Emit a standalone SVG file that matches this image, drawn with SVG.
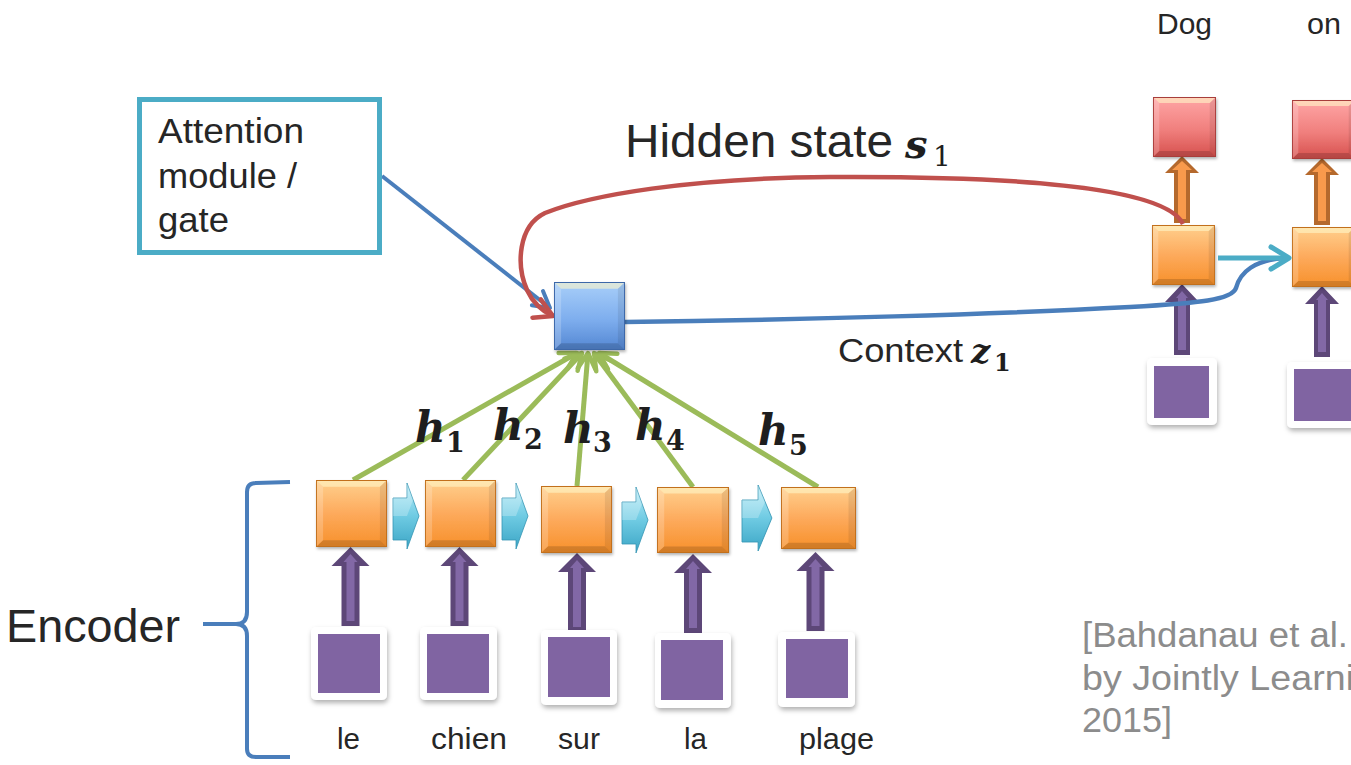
<svg xmlns="http://www.w3.org/2000/svg" xmlns:xlink="http://www.w3.org/1999/xlink" width="1351" height="765" viewBox="0 0 1351 765">
  <style>
    .t { font-family: "Liberation Sans", Arial, sans-serif; fill: #262626; }
    .cite { font-family: "Liberation Sans", Arial, sans-serif; fill: #8c8c8c; font-size: 35px; }
    .m { font-family: "DejaVu Serif", serif; font-weight: bold; font-style: italic; fill: #1e1e1e; }
    .sub { font-family: "DejaVu Serif", serif; font-weight: bold; fill: #1e1e1e; }
    .subr { font-family: "DejaVu Serif", serif; fill: #1e1e1e; }
    .card { fill: #ffffff; filter: url(#shadow); }
    .word { fill: #8064a2; }
    .green { stroke: #9bbb59; stroke-width: 5; fill: none; marker-end: url(#head-green); }
  </style>
  <defs>
    <filter id="shadow" x="-20%" y="-20%" width="150%" height="150%">
      <feDropShadow dx="1" dy="3" stdDeviation="2.5" flood-color="#000" flood-opacity="0.3"/>
    </filter>
    <filter id="soft" x="-20%" y="-20%" width="150%" height="150%">
      <feDropShadow dx="1" dy="2" stdDeviation="1.5" flood-color="#000" flood-opacity="0.3"/>
    </filter>
    <linearGradient id="g-orange" x1="0" y1="0" x2="0" y2="1">
      <stop offset="0" stop-color="#ffd08e"/>
      <stop offset="0.5" stop-color="#fdaa5c"/>
      <stop offset="1" stop-color="#f7902a"/>
    </linearGradient>
    <linearGradient id="g-red" x1="0" y1="0" x2="0" y2="1">
      <stop offset="0" stop-color="#ffa6a6"/>
      <stop offset="0.55" stop-color="#f07f7d"/>
      <stop offset="1" stop-color="#d6504d"/>
    </linearGradient>
    <linearGradient id="g-blue" x1="0" y1="0" x2="0" y2="1">
      <stop offset="0" stop-color="#a9cff9"/>
      <stop offset="0.55" stop-color="#7eaeee"/>
      <stop offset="1" stop-color="#5386d2"/>
    </linearGradient>
    <linearGradient id="g-cyan" x1="0" y1="0" x2="0" y2="1">
      <stop offset="0" stop-color="#b8ecf8"/>
      <stop offset="0.5" stop-color="#6fcbe3"/>
      <stop offset="1" stop-color="#3ba5c5"/>
    </linearGradient>

    <!-- bevelled square, stretched to each box -->
    <symbol id="bevel" viewBox="0 0 100 100" preserveAspectRatio="none">
      <polygon points="0,0 100,0 90,10 10,10" fill="#fff6c8" opacity="0.6"/>
      <polygon points="0,0 10,10 10,90 0,100" fill="#ffffff" opacity="0.2"/>
      <polygon points="100,0 100,100 90,90 90,10" fill="#000000" opacity="0.08"/>
      <polygon points="0,100 100,100 90,90 10,90" fill="#000000" opacity="0.15"/>
    </symbol>
    <symbol id="box-orange" viewBox="0 0 100 100" preserveAspectRatio="none">
      <rect width="100" height="100" fill="url(#g-orange)"/>
      <use href="#bevel" width="100" height="100"/>
      <rect x="0.5" y="0.5" width="99" height="99" fill="none" stroke="#c2701f" stroke-width="1.2" vector-effect="non-scaling-stroke"/>
    </symbol>
    <symbol id="box-red" viewBox="0 0 100 100" preserveAspectRatio="none">
      <rect width="100" height="100" fill="url(#g-red)"/>
      <use href="#bevel" width="100" height="100"/>
      <rect x="0.5" y="0.5" width="99" height="99" fill="none" stroke="#a83c3a" stroke-width="1.2" vector-effect="non-scaling-stroke"/>
    </symbol>
    <symbol id="box-blue" viewBox="0 0 100 100" preserveAspectRatio="none">
      <rect width="100" height="100" fill="url(#g-blue)"/>
      <use href="#bevel" width="100" height="100"/>
      <rect x="0.5" y="0.5" width="99" height="99" fill="none" stroke="#3c67a8" stroke-width="1.2" vector-effect="non-scaling-stroke"/>
    </symbol>

    <!-- block arrows, tip at origin -->
    <g id="up-purple-79">
      <polygon points="0,0 19,19 9,19 9,79 -9,79 -9,19 -19,19" fill="#5d4778"/>
      <polygon points="0,7 7,15 4,15 4,74 -4,74 -4,15 -7,15" fill="#8268a6"/>
    </g>
    <g id="up-purple-71">
      <polygon points="0,0 17,18 8,18 8,71 -8,71 -8,18 -17,18" fill="#5d4778"/>
      <polygon points="0,7 6,14 4,14 4,66 -4,66 -4,14 -6,14" fill="#8268a6"/>
    </g>
    <g id="up-orange-67">
      <polygon points="0,0 17,17 8,17 8,67 -8,67 -8,17 -17,17" fill="#b5692d"/>
      <polygon points="0,5 10,14 4,14 4,63 -4,63 -4,14 -10,14" fill="#f99a4c"/>
    </g>
    <g id="right-cyan">
      <polygon points="0,15 14,15 14,0 26,33 14,66 14,57 0,57" fill="url(#g-cyan)" stroke="#3596b4" stroke-width="0.8"/>
      <polygon points="0,15 14,15 14,0 20,17 14,33 0,33" fill="#ffffff" opacity="0.25"/>
    </g>

    <!-- open chevron heads -->
    <marker id="head-blue" markerUnits="userSpaceOnUse" viewBox="0 0 24 24" markerWidth="24" markerHeight="24" refX="20" refY="12" orient="auto">
      <path d="M4,3 L20,12 L4,21" fill="none" stroke="#4a7ebb" stroke-width="4" stroke-linecap="round" stroke-linejoin="round"/>
    </marker>
    <marker id="head-red" markerUnits="userSpaceOnUse" viewBox="0 0 26 26" markerWidth="26" markerHeight="26" refX="22" refY="13" orient="auto">
      <path d="M4,3 L22,13 L4,23" fill="none" stroke="#c0504d" stroke-width="4.5" stroke-linecap="round" stroke-linejoin="round"/>
    </marker>
    <marker id="head-green" markerUnits="userSpaceOnUse" viewBox="0 0 24 24" markerWidth="24" markerHeight="24" refX="20" refY="12" orient="auto">
      <path d="M4,3 L20,12 L4,21" fill="none" stroke="#9bbb59" stroke-width="4.5" stroke-linecap="round" stroke-linejoin="round"/>
    </marker>
    <marker id="head-cyan" markerUnits="userSpaceOnUse" viewBox="0 0 26 28" markerWidth="26" markerHeight="28" refX="22" refY="14" orient="auto">
      <path d="M4,3 L22,14 L4,25" fill="none" stroke="#4bacc6" stroke-width="5" stroke-linecap="round" stroke-linejoin="round"/>
    </marker>
  </defs>

  <rect width="1351" height="765" fill="#ffffff"/>

  <!-- connectors -->
  <g id="connectors">
    <!-- recurrent links between encoder steps -->
    <use href="#right-cyan" transform="translate(393,483)"/>
    <use href="#right-cyan" transform="translate(502,483)"/>
    <use href="#right-cyan" transform="translate(622,487)"/>
    <use href="#right-cyan" transform="translate(742,485) scale(1.15,1)"/>

    <!-- word inputs to encoder states -->
    <use href="#up-purple-79" transform="translate(350.5,547)"/>
    <use href="#up-purple-79" transform="translate(459.5,547)"/>
    <use href="#up-purple-79" transform="translate(577,553)"/>
    <use href="#up-purple-79" transform="translate(693,554)"/>
    <use href="#up-purple-79" transform="translate(815.5,552)"/>

    <!-- decoder inputs and outputs -->
    <use href="#up-purple-71" transform="translate(1182,284)"/>
    <use href="#up-purple-71" transform="translate(1322,286)"/>
    <use href="#up-orange-67" transform="translate(1182,156)"/>
    <use href="#up-orange-67" transform="translate(1322,158)"/>

    <!-- annotations h1..h5 into the attention gate -->
    <path class="green" d="M353,480 L577,353"/>
    <path class="green" d="M463,480 L582,353"/>
    <path class="green" d="M577,486 L588,353"/>
    <path class="green" d="M693,487 L594,353"/>
    <path class="green" d="M818,487 L599,353"/>

    <!-- label pointer -->
    <path d="M382,176 L550,308" fill="none" stroke="#4a7ebb" stroke-width="4" marker-end="url(#head-blue)"/>

    <!-- hidden state fed back -->
    <path d="M1183,224 C1165,185 1000,176 830,177 C690,178 590,195 545,213 C518,226 516,265 527,290 C533,303 542,311 553,316" fill="none" stroke="#c0504d" stroke-width="4.5" marker-end="url(#head-red)"/>

    <!-- context vector to next decoder step -->
    <path d="M625,322 C800,320 1000,314 1130,307 C1200,303 1232,300 1236,288 C1240,272 1255,260 1284,258" fill="none" stroke="#4a7ebb" stroke-width="4.5"/>
    <path d="M1218,258 L1289,258" fill="none" stroke="#4bacc6" stroke-width="5" marker-end="url(#head-cyan)"/>

    <!-- encoder brace -->
    <path d="M290,482 L256,483 Q247,483 247,492 L247,612 Q247,624 236,624 L203,624 M236,624 Q247,624 247,636 L247,749 Q247,757 256,757 L290,757" fill="none" stroke="#4a7ebb" stroke-width="4" stroke-linejoin="round"/>
  </g>

  <!-- attention label box -->
  <g id="attention-label">
    <rect x="139.5" y="99.5" width="240" height="153" fill="#ffffff" stroke="#4bacc6" stroke-width="5"/>
    <text class="t" font-size="35" x="158" y="143" textLength="146" lengthAdjust="spacingAndGlyphs">Attention</text>
    <text class="t" font-size="35" x="158" y="188" textLength="139" lengthAdjust="spacingAndGlyphs">module /</text>
    <text class="t" font-size="35" x="158" y="232" textLength="71" lengthAdjust="spacingAndGlyphs">gate</text>
  </g>

  <!-- attention gate -->
  <g id="gate">
    <use href="#box-blue" x="554" y="282" width="71" height="68" filter="url(#soft)"/>
  </g>

  <!-- encoder states -->
  <g id="enc-1"><use href="#box-orange" x="316" y="480" width="71" height="67" filter="url(#soft)"/></g>
  <g id="enc-2"><use href="#box-orange" x="425" y="480" width="71" height="67" filter="url(#soft)"/></g>
  <g id="enc-3"><use href="#box-orange" x="541" y="486" width="71" height="67" filter="url(#soft)"/></g>
  <g id="enc-4"><use href="#box-orange" x="657" y="487" width="72" height="66" filter="url(#soft)"/></g>
  <g id="enc-5"><use href="#box-orange" x="781" y="487" width="75" height="62" filter="url(#soft)"/></g>

  <!-- source words -->
  <g id="in-le"><rect class="card" x="311" y="627" width="76" height="73" rx="5"/><rect class="word" x="318" y="634" width="62" height="59"/><text class="t" font-size="30" x="337" y="749" textLength="23" lengthAdjust="spacingAndGlyphs">le</text></g>
  <g id="in-chien"><rect class="card" x="420" y="627" width="77" height="73" rx="5"/><rect class="word" x="427" y="634" width="62" height="59"/><text class="t" font-size="30" x="431" y="749" textLength="76" lengthAdjust="spacingAndGlyphs">chien</text></g>
  <g id="in-sur"><rect class="card" x="541" y="630" width="76" height="75" rx="5"/><rect class="word" x="548" y="637" width="62" height="60"/><text class="t" font-size="30" x="558" y="749" textLength="42" lengthAdjust="spacingAndGlyphs">sur</text></g>
  <g id="in-la"><rect class="card" x="655" y="633" width="76" height="75" rx="5"/><rect class="word" x="661" y="640" width="62" height="60"/><text class="t" font-size="30" x="684" y="749" textLength="23" lengthAdjust="spacingAndGlyphs">la</text></g>
  <g id="in-plage"><rect class="card" x="778" y="632" width="77" height="75" rx="5"/><rect class="word" x="786" y="639" width="62" height="59"/><text class="t" font-size="30" x="799" y="749" textLength="75" lengthAdjust="spacingAndGlyphs">plage</text></g>

  <!-- decoder -->
  <g id="dec-1">
    <use href="#box-orange" x="1152" y="225" width="63" height="60" filter="url(#soft)"/>
  </g>
  <g id="dec-2">
    <use href="#box-orange" x="1292" y="227" width="63" height="60" filter="url(#soft)"/>
  </g>
  <g id="out-dog">
    <use href="#box-red" x="1153" y="97" width="63" height="60" filter="url(#soft)"/>
    <text class="t" font-size="29" x="1157" y="34" textLength="55" lengthAdjust="spacingAndGlyphs">Dog</text>
  </g>
  <g id="out-on">
    <use href="#box-red" x="1292" y="100" width="63" height="59" filter="url(#soft)"/>
    <text class="t" font-size="29" x="1307" y="34" textLength="34" lengthAdjust="spacingAndGlyphs">on</text>
  </g>
  <g id="dec-in-1"><rect class="card" x="1147" y="358" width="70" height="67" rx="5"/><rect class="word" x="1154" y="366" width="55" height="52"/></g>
  <g id="dec-in-2"><rect class="card" x="1287" y="362" width="70" height="66" rx="5"/><rect class="word" x="1294" y="369" width="57" height="52"/></g>

  <!-- labels -->
  <g id="labels">
    <text class="t" font-size="46" x="625" y="157" textLength="268" lengthAdjust="spacingAndGlyphs">Hidden state</text>
    <text class="m" font-size="40" x="905" y="158">s</text>
    <text class="subr" font-size="28" x="933" y="166">1</text>

    <text class="t" font-size="34" x="838" y="362" textLength="125" lengthAdjust="spacingAndGlyphs">Context</text>
    <text class="m" font-size="34" x="971" y="363">z</text>
    <text class="sub" font-size="24" x="994" y="371">1</text>

    <text class="m" font-size="42" x="415" y="442">h</text><text class="sub" font-size="27" x="446" y="452">1</text>
    <text class="m" font-size="42" x="493" y="440">h</text><text class="sub" font-size="27" x="524" y="449">2</text>
    <text class="m" font-size="42" x="563" y="443">h</text><text class="sub" font-size="27" x="593" y="452">3</text>
    <text class="m" font-size="42" x="635" y="440">h</text><text class="sub" font-size="27" x="666" y="450">4</text>
    <text class="m" font-size="42" x="758" y="445">h</text><text class="sub" font-size="27" x="789" y="455">5</text>

    <text class="t" font-size="47" x="6" y="642" textLength="174" lengthAdjust="spacingAndGlyphs">Encoder</text>

    <text class="cite" x="1082" y="647" textLength="266" lengthAdjust="spacingAndGlyphs">[Bahdanau et al.</text>
    <text class="cite" x="1082" y="690" textLength="272" lengthAdjust="spacingAndGlyphs">by Jointly Learni</text>
    <text class="cite" x="1082" y="732" textLength="90" lengthAdjust="spacingAndGlyphs">2015]</text>
  </g>
</svg>
